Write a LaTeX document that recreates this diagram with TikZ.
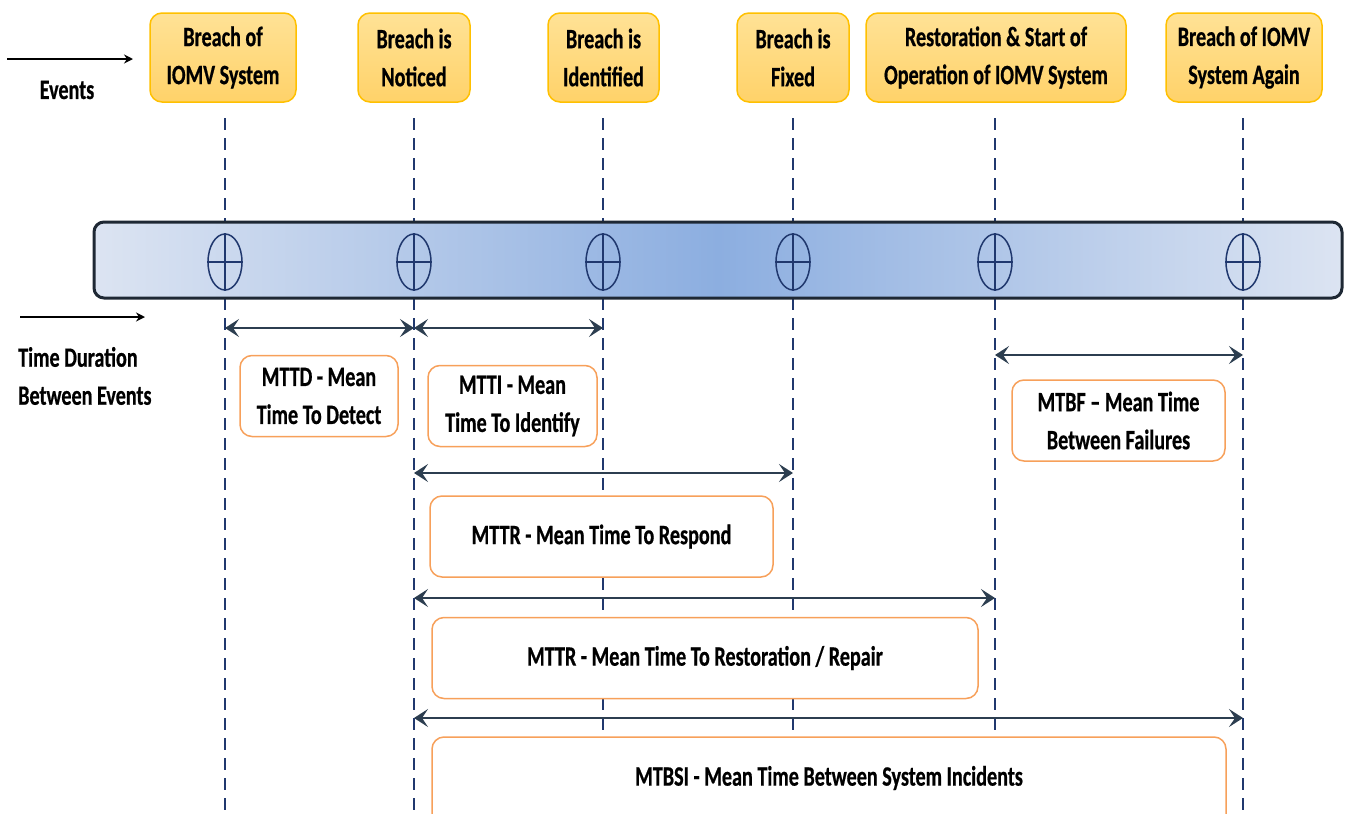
\documentclass[tikz,border=0pt]{standalone}
\usepackage{fontspec}
\setmainfont{Carlito}[FakeStretch=0.72,FakeBold=0.6]
\usetikzlibrary{arrows.meta,shapes.geometric}
\definecolor{navy}{RGB}{32,56,110}
\definecolor{evtop}{RGB}{255,226,150}
\definecolor{evbot}{RGB}{255,210,105}
\definecolor{evdraw}{RGB}{255,192,0}
\definecolor{lbdraw}{RGB}{247,160,90}
\definecolor{arr}{RGB}{44,62,80}
\definecolor{barl}{RGB}{220,228,242}
\definecolor{barm}{RGB}{140,174,224}
\definecolor{bard}{RGB}{30,40,52}
\begin{document}
\begin{tikzpicture}[x=1pt,y=-1pt,
 txt/.style={font=\bfseries\fontsize{28}{38}\selectfont, align=center, inner sep=0pt},
 event/.style={txt, draw=evdraw, line width=1.5pt, top color=evtop, bottom color=evbot, rounded corners=12pt, minimum height=89pt},
 lbl/.style={txt, draw=lbdraw, line width=1.5pt, fill=white, rounded corners=12pt, minimum height=81pt},
 guide/.style={navy, line width=2.4pt, dash pattern=on 12pt off 8pt},
 span/.style={arr, line width=2.6pt, {Stealth[length=14pt,width=18pt,inset=6pt]}-{Stealth[length=14pt,width=18pt,inset=6pt]}},
 crossmark/.style={ellipse, draw=navy, line width=1.5pt, minimum width=34pt, minimum height=56pt, inner sep=0pt},
 side/.style={black, line width=1.5pt, -{Stealth[length=9pt,width=9pt]}}
]
\useasboundingbox (0,0) rectangle (1347,814);
% guide coordinates
\foreach \i/\x in {1/225,2/414,3/603,4/793,5/995,6/1243}{
  \coordinate (t\i) at (\x,118);
  \coordinate (b\i) at (\x,814);
}
\foreach \i in {1,...,6}{ \draw[guide] (t\i) -- (b\i); }
% bar
\node[draw=bard, line width=3pt, rounded corners=10pt, left color=barl, right color=barl, middle color=barm,
      minimum width=1248pt, minimum height=76pt, inner sep=0pt] (bar) at (718,260) {};
\foreach \i/\x in {1/225,2/414,3/603,4/793,5/995,6/1243}{
  \node[crossmark] (c\i) at (\x,262) {};
  \draw[navy, line width=1.5pt] (c\i.north) -- (c\i.south) (c\i.west) -- (c\i.east);
}
% events
\node[event, minimum width=146pt] (e1) at (223,57.5) {Breach of\\IOMV System};
\node[event, minimum width=112pt] (e2) at (414,57.5) {Breach is\\Noticed};
\node[event, minimum width=111pt] (e3) at (603.5,57.5) {Breach is\\Identified};
\node[event, minimum width=112pt] (e4) at (793,57.5) {Breach is\\Fixed};
\node[event, minimum width=260pt] (e5) at (996,57.5) {Restoration \& Start of\\Operation of IOMV System};
\node[event, minimum width=156pt] (e6) at (1244,57.5) {Breach of IOMV\\System Again};
% left legend
\coordinate (ea) at (7,59); \coordinate (eb) at (133,59);
\draw[side] (ea) -- (eb);
\node[txt] (ev) at (67,90) {Events};
\coordinate (ta) at (20,317); \coordinate (tb) at (145,317);
\draw[side] (ta) -- (tb);
\node[txt, anchor=west, align=left] (td) at (18,376) {Time Duration\\Between Events};
% labels
\node[lbl, minimum width=158pt] (l1) at (319,396) {MTTD - Mean\\Time To Detect};
\node[lbl, minimum width=169pt] (l2) at (512.5,406) {MTTI - Mean\\Time To Identify};
\node[lbl, minimum width=213pt] (l3) at (1118.5,420.5) {MTBF -- Mean Time\\Between Failures};
\node[lbl, minimum width=343pt] (l4) at (601.5,536.5) {MTTR - Mean Time To Respond};
\node[lbl, minimum width=546pt] (l5) at (705,658) {MTTR - Mean Time To Restoration / Repair};
\node[lbl, minimum width=794pt, minimum height=100pt] (l6) at (829,787) {};
\node[txt] (l6t) at (829,778) {MTBSI - Mean Time Between System Incidents};
% spans
\coordinate (s1a) at (225,328); \coordinate (s1b) at (414,328);
\coordinate (s2a) at (414,328); \coordinate (s2b) at (603,328);
\coordinate (s3a) at (995,355); \coordinate (s3b) at (1243,355);
\coordinate (s4a) at (414,473); \coordinate (s4b) at (793,473);
\coordinate (s5a) at (414,598); \coordinate (s5b) at (995,598);
\coordinate (s6a) at (414,718); \coordinate (s6b) at (1243,718);
\foreach \i in {1,...,6}{ \draw[span] (s\i a) -- (s\i b); }
\end{tikzpicture}
\end{document}
